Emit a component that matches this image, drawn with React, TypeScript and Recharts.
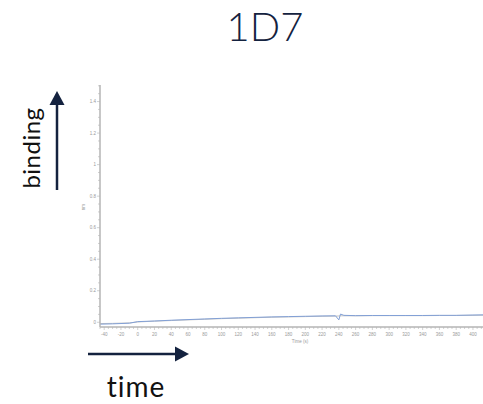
import { LineChart, Line, XAxis, YAxis } from "recharts"

// sensorgram trace
const times = [-45, -30, -10, 0, 20, 40, 60, 80, 100, 120, 140, 160, 180, 200, 220, 236, 240, 242, 246, 260, 280, 300, 320, 340, 360, 380, 400, 412]
const response = [-0.012, -0.01, -0.006, 0.004, 0.008, 0.013, 0.017, 0.021, 0.025, 0.028, 0.031, 0.034, 0.036, 0.038, 0.04, 0.041, 0.015, 0.052, 0.044, 0.042, 0.043, 0.043, 0.043, 0.043, 0.044, 0.044, 0.046, 0.047]
const reference = [-0.008, -0.007, -0.004, 0.002, 0.007, 0.011, 0.015, 0.019, 0.023, 0.026, 0.029, 0.032, 0.034, 0.036, 0.038, 0.039, 0.04, 0.041, 0.041, 0.041, 0.042, 0.042, 0.042, 0.042, 0.043, 0.043, 0.044, 0.045]

const xLabels = [-40, -20, 0, 20, 40, 60, 80, 100, 120, 140, 160, 180, 200, 220, 240, 260, 280, 300, 320, 340, 360, 380, 400]
const yLabels = [0, 0.2, 0.4, 0.6, 0.8, 1, 1.2, 1.4]

const data = times.map((t, i) => ({ t, response: response[i], reference: reference[i] }))

const xTicks: number[] = []
for (let v = -45; v <= 410; v += 5) xTicks.push(v)
const yTicks: number[] = []
for (let i = 0; i <= 30; i++) yTicks.push(Math.round(i * 5) / 100)

const navy = "#14223f"
const axisGrey = "#b4b4b4"
const labelGrey = "#9a9a9a"

const XTick = (props: any) => {
  const { x, y, payload } = props
  const v = payload.value
  const major = xLabels.includes(v)
  return (
    <g>
      <line x1={x} x2={x} y1={y} y2={y + (major ? 3 : 2)} stroke={axisGrey} strokeWidth={0.6} />
      {major && (
        <text x={x} y={y + 9} textAnchor="middle" fontSize={4.5} fill={labelGrey} fontFamily="Liberation Sans">
          {v}
        </text>
      )}
    </g>
  )
}

const YTick = (props: any) => {
  const { x, y, payload } = props
  const v = payload.value
  const major = yLabels.some((l) => Math.abs(l - v) < 1e-6)
  return (
    <g>
      <line x1={x} x2={x - (major ? 3 : 2)} y1={y} y2={y} stroke={axisGrey} strokeWidth={0.6} />
      {major && (
        <text x={x - 4} y={y + 1.5} textAnchor="end" fontSize={4.5} fill={labelGrey} fontFamily="Liberation Sans">
          {v}
        </text>
      )}
    </g>
  )
}

export default function App() {
  return (
    <div style={{ position: "absolute", left: 0, top: 0, width: 483, height: 404, background: "#fff", overflow: "hidden" }}>
      <LineChart width={483} height={404} data={data} margin={{ top: 85, right: 0, bottom: 76, left: 99 }}>
        <XAxis
          dataKey="t"
          type="number"
          domain={[-45, 412]}
          ticks={xTicks}
          interval={0}
          tick={XTick}
          tickLine={false}
          tickSize={0}
          tickMargin={0}
          height={1}
          allowDataOverflow
          axisLine={{ stroke: axisGrey, strokeWidth: 1.5 }}
        />
        <YAxis
          type="number"
          domain={[-0.03, 1.505]}
          ticks={yTicks}
          interval={0}
          tick={YTick}
          tickLine={false}
          tickSize={0}
          tickMargin={0}
          width={1}
          allowDataOverflow
          axisLine={{ stroke: axisGrey, strokeWidth: 1.5 }}
        />
        <Line dataKey="reference" stroke="#c4c4c4" strokeWidth={1} dot={false} isAnimationActive={false} />
        <Line dataKey="response" stroke="#82a0d6" strokeWidth={1} dot={false} isAnimationActive={false} />
      </LineChart>
      <svg width={483} height={404} style={{ position: "absolute", left: 0, top: 0, pointerEvents: "none" }}>
        <text x={265} y={41} textAnchor="middle" fontSize={40} fill={navy} fontFamily="Lato, 'Liberation Sans', sans-serif" fontWeight={300}>
          1D7
        </text>
        <text x={300} y={343} textAnchor="middle" fontSize={4.5} fill={labelGrey} fontFamily="Liberation Sans">
          Time (s)
        </text>
        <text x={85} y={207} textAnchor="middle" fontSize={4.5} fill={labelGrey} fontFamily="Liberation Sans" transform="rotate(-90 85 207)">
          nm
        </text>
        <text x={40} y={148} textAnchor="middle" fontSize={24} fill="#111" fontFamily="Lato, 'Liberation Sans', sans-serif" letterSpacing={0.5} transform="rotate(-90 40 148)">
          binding
        </text>
        <line x1={57} y1={190} x2={57} y2={104} stroke={navy} strokeWidth={2.5} />
        <polygon points="57,91 49.5,105 64.5,105" fill={navy} />
        <line x1={88} y1={354} x2={175} y2={354} stroke={navy} strokeWidth={2.5} />
        <polygon points="189,354 175,346.5 175,361.5" fill={navy} />
        <text x={136} y={397} textAnchor="middle" fontSize={28} fill="#111" fontFamily="Lato, 'Liberation Sans', sans-serif" letterSpacing={1}>
          time
        </text>
      </svg>
    </div>
  )
}
